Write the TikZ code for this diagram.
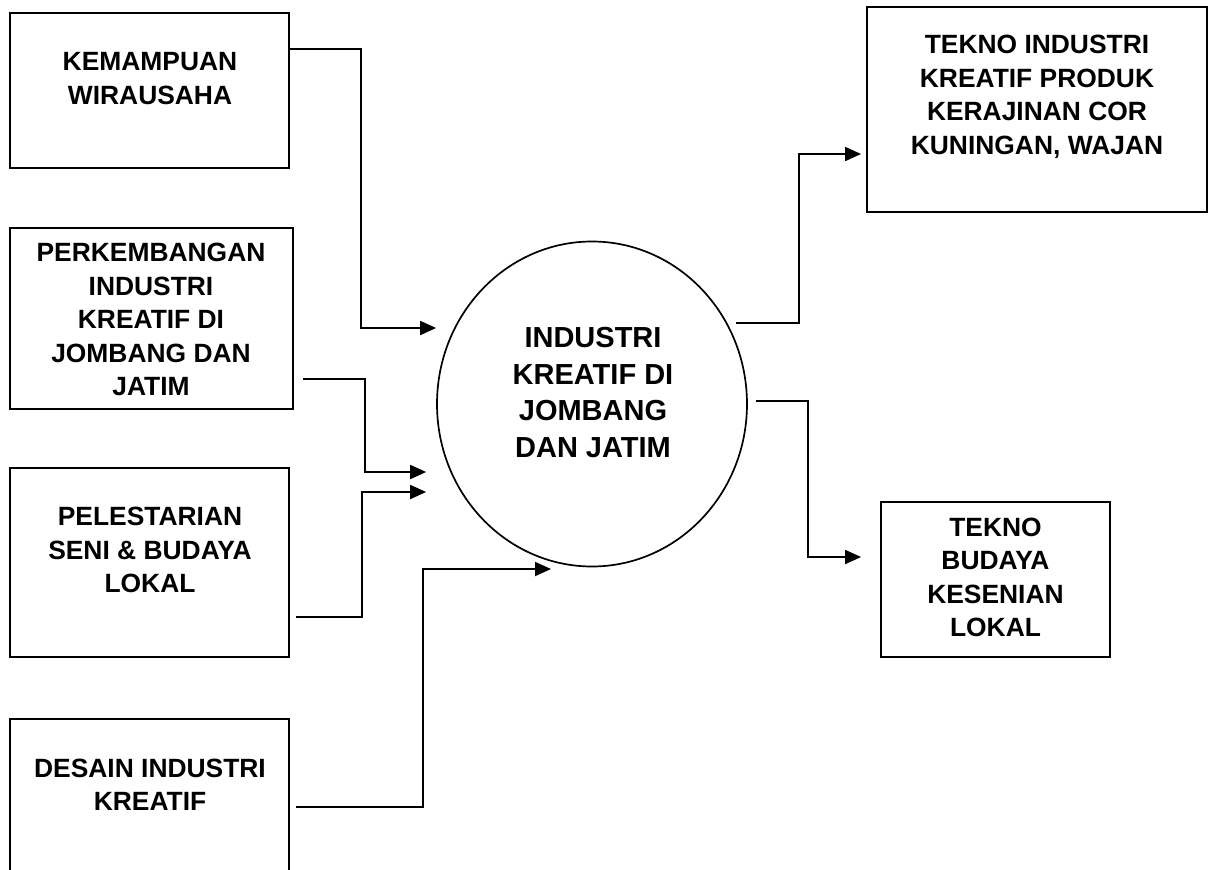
\documentclass[tikz,border=0pt]{standalone}
\usepackage{fontspec}
\setmainfont{Liberation Sans}
\usetikzlibrary{arrows.meta,shapes.geometric}

\tikzset{
  box/.style={draw=black, line width=1.8pt, rectangle, inner sep=0pt},
  boxtext/.style={align=center, inner sep=0pt,
    font=\fontsize{26.4}{33.5}\selectfont\bfseries},
  hub/.style={draw=black, line width=1.7pt, ellipse, inner sep=0pt,
    minimum width=310pt, minimum height=325pt},
  hubtext/.style={align=center, inner sep=0pt,
    font=\fontsize{29}{36.7}\selectfont\bfseries},
  conn/.style={draw=black, line width=1.8pt,
    -{Triangle[length=16pt,width=14pt]}}
}

\begin{document}
\begin{tikzpicture}[x=1pt,y=-1pt]
  \clip (0,0) rectangle (1208,870);
  \fill[white] (0,0) rectangle (1208,870);

  % input boxes on the left
  \node[box, minimum width=279pt, minimum height=155pt] (b1) at (149.5,90.5) {};
  \node[boxtext] (t1) at (150,78.5) {KEMAMPUAN\\WIRAUSAHA};

  \node[box, minimum width=283pt, minimum height=181pt] (b2) at (151.5,318.5) {};
  \node[boxtext] (t2) at (151,319.5) {PERKEMBANGAN\\INDUSTRI\\KREATIF DI\\JOMBANG DAN\\JATIM};

  \node[box, minimum width=279pt, minimum height=189pt] (b3) at (149.5,562.5) {};
  \node[boxtext] (t3) at (150,550) {PELESTARIAN\\SENI \& BUDAYA\\LOKAL};

  \node[box, minimum width=279pt, minimum height=181pt] (b4) at (149.5,809.5) {};
  \node[boxtext] (t4) at (150,785) {DESAIN INDUSTRI\\KREATIF};

  % central process
  \node[hub] (c) at (592,404) {};
  \node[hubtext] (tc) at (593,392.5) {INDUSTRI\\KREATIF DI\\JOMBANG\\DAN JATIM};

  % output boxes on the right
  \node[box, minimum width=340pt, minimum height=205pt] (b5) at (1037,109.5) {};
  \node[boxtext] (t5) at (1037,97) {TEKNO INDUSTRI\\KREATIF PRODUK\\KERAJINAN COR\\KUNINGAN, WAJAN};

  \node[box, minimum width=229pt, minimum height=155pt] (b6) at (995.5,579.5) {};
  \node[boxtext] (t6) at (995.5,577.5) {TEKNO\\BUDAYA\\KESENIAN\\LOKAL};

  % inputs into the process
  \draw[conn] ([xshift=-2pt]b1.east |- 0,49) -| (361,328) -- (c.west |- 0,328);
  \draw[conn] ([xshift=9pt]b2.east |- 0,379) -| (365,472) -- ([xshift=-10pt]c.west |- 0,472);
  \draw[conn] ([xshift=6pt]b3.east |- 0,617) -| (362,492) -- ([xshift=-10pt]c.west |- 0,492);
  \draw[conn] ([xshift=6pt]b4.east |- 0,807) -| (423,569) -- ([xshift=-41pt]c.south |- 0,569);

  % outputs from the process
  \draw[conn] ([xshift=-12pt]c.east |- 0,323) -| (799,154) -- ([xshift=-5pt]b5.west |- 0,154);
  \draw[conn] ([xshift=8pt]c.east |- 0,401) -| (808,557) -- ([xshift=-19pt]b6.west |- 0,557);
\end{tikzpicture}
\end{document}
